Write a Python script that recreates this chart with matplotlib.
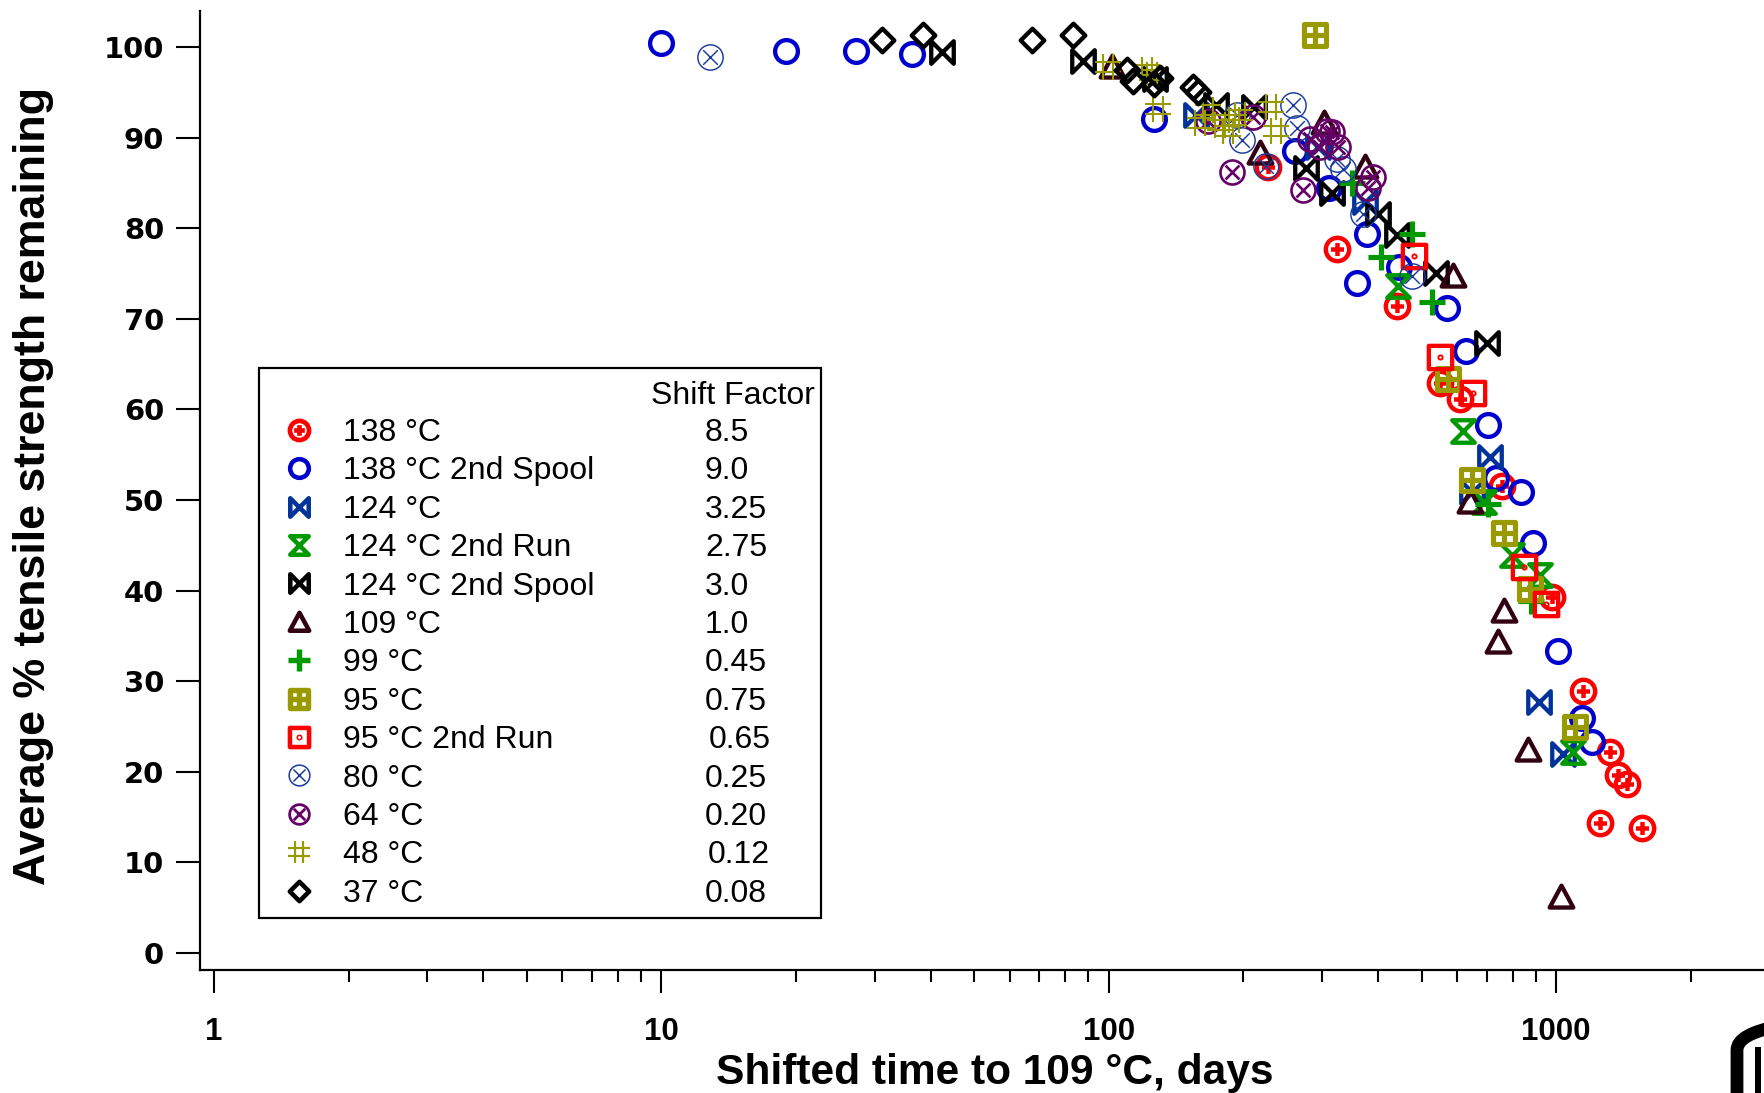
import numpy as np
import matplotlib
matplotlib.use("Agg")
import matplotlib.pyplot as plt
from matplotlib.path import Path
from matplotlib.lines import Line2D
from matplotlib.patches import Rectangle, FancyBboxPatch
from matplotlib.transforms import IdentityTransform

# ---------------------------------------------------------------- data
series_names = ["138 °C", "138 °C 2nd Spool", "124 °C", "124 °C 2nd Run",
                "124 °C 2nd Spool", "109 °C", "99 °C", "95 °C", "95 °C 2nd Run",
                "80 °C", "64 °C", "48 °C", "37 °C"]
shift_factors = ["8.5", "9.0", "3.25", "2.75", "3.0", "1.0", "0.45", "0.75",
                 "0.65", "0.25", "0.20", "0.12", "0.08"]

t138_x = [227, 323, 440, 550, 609, 755, 977, 1150, 1320, 1377, 1438, 1253, 1553]
t138_y = [86.8, 77.7, 71.4, 62.9, 61.2, 51.5, 39.3, 28.9, 22.2, 19.6, 18.7, 14.3, 13.8]

t138b_x = [9.96, 19.0, 27.2, 36.3, 126, 261, 310, 377, 358, 445, 569, 630, 705,
           733, 833, 889, 1011, 1140, 1200]
t138b_y = [100.4, 99.6, 99.6, 99.2, 92.1, 88.5, 84.4, 79.4, 73.9, 75.7, 71.2,
           66.4, 58.3, 52.4, 50.9, 45.3, 33.3, 25.9, 23.3]

t124_x = [157, 293, 374, 711, 647, 917, 1038]
t124_y = [92.5, 89.0, 82.9, 54.8, 50.9, 27.7, 22.0]

t124r_x = [443, 620, 688, 798, 920, 1093]
t124r_y = [73.6, 57.6, 49.8, 43.9, 41.7, 22.2]

t124s_x = [42.3, 87.7, 127, 174, 210.6, 276.6, 315, 400, 440, 540, 700]
t124s_y = [99.5, 98.4, 96.5, 93.6, 93.4, 86.6, 83.9, 81.6, 79.3, 75.1, 67.3]

t109_x = [101.5, 217.8, 302, 374, 589, 641, 764, 742, 866, 1025]
t109_y = [97.8, 88.3, 91.6, 86.8, 74.7, 49.8, 37.7, 34.3, 22.4, 6.2]

t99_x = [349, 405, 475, 527, 705, 880]
t99_y = [85.0, 76.8, 79.4, 71.9, 49.6, 38.8]

t95_x = [289, 574, 649, 766, 874, 1102]
t95_y = [101.3, 63.4, 52.2, 46.4, 40.2, 25.0]

t95r_x = [480, 550, 653, 847, 947]
t95r_y = [76.9, 65.8, 61.8, 42.6, 38.5]

t80_x = [12.85, 193, 198, 225, 258.5, 263, 323, 334, 370.6, 475]
t80_y = [98.9, 92.5, 89.7, 86.9, 93.6, 91.1, 87.6, 86.5, 81.6, 74.7]

t64_x = [166.8, 188.2, 210, 272, 281.6, 296.6, 307, 314.8, 326, 380, 390]
t64_y = [91.8, 86.2, 92.3, 84.2, 89.8, 89.0, 90.7, 90.6, 89.0, 84.4, 85.7]

t48_x = [99.7, 121.5, 125, 129, 160, 166.8, 177, 185, 190, 196.5, 231, 237]
t48_y = [97.8, 97.5, 96.9, 93.2, 91.6, 93.0, 91.4, 90.7, 91.9, 92.5, 93.4, 90.7]

t37_x = [31.1, 38.5, 67.2, 83.0, 109.6, 113.4, 126, 130, 154.5, 158]
t37_y = [100.8, 101.3, 100.8, 101.3, 97.5, 96.3, 95.9, 96.6, 95.6, 95.0]

x_ticks = [1, 10, 100, 1000]
x_tick_labels = ["1", "10", "100", "1000"]
y_ticks = [0, 10, 20, 30, 40, 50, 60, 70, 80, 90, 100]


# ---------------------------------------------------------------- marker shapes
def closed(verts):
    return Path(list(verts) + [verts[0]],
                [Path.MOVETO] + [Path.LINETO] * (len(verts) - 1) + [Path.CLOSEPOLY])


def segments(segs):
    verts, codes = [], []
    for a, b in segs:
        verts += [a, b]
        codes += [Path.MOVETO, Path.LINETO]
    return Path(verts, codes)


a = 0.56
circle_plus = Path.make_compound_path(
    Path.unit_circle(), segments([((-a, 0), (a, 0)), ((0, -a), (0, a))]))
b = 0.58
circle_x = Path.make_compound_path(
    Path.unit_circle(), segments([((-b, -b), (b, b)), ((-b, b), (b, -b))]))
bowtie = closed([(-1, 1), (1, -1), (1, 1), (-1, -1)])
hourglass = closed([(-1, 1), (1, 1), (-1, -1), (1, -1)])
triangle = closed([(0, 1), (-1, -0.85), (1, -0.85)])
diamond = closed([(0, 1), (1, 0), (0, -1), (-1, 0)])
square = closed([(-1, -1), (1, -1), (1, 1), (-1, 1)])
square_plus = Path.make_compound_path(
    square, segments([((-1, 0), (1, 0)), ((0, -1), (0, 1))]))
square_dot = Path.make_compound_path(square, Path.circle((0, 0), 0.08))
h = 0.4
hash_mark = segments([((-h, -1), (-h, 1)), ((h, -1), (h, 1)),
                      ((-1, -h), (1, -h)), ((-1, h), (1, h))])

# (x, y, marker, colour, size pt, edge width pt)
series = [
    (t138_x, t138_y, circle_plus, "#FF0000", 16.8, 3.2),
    (t138b_x, t138b_y, "o", "#0000CC", 16.4, 3.1),
    (t124_x, t124_y, bowtie, "#003399", 16.2, 3.1),
    (t124r_x, t124r_y, hourglass, "#009900", 16.2, 3.1),
    (t124s_x, t124s_y, bowtie, "#000000", 16.2, 3.1),
    (t109_x, t109_y, triangle, "#330011", 17.0, 3.1),
    (t99_x, t99_y, "+", "#009900", 19.2, 3.7),
    (t95_x, t95_y, square_plus, "#999900", 16.2, 3.7),
    (t95r_x, t95r_y, square_dot, "#FF0000", 16.8, 3.1),
    (t80_x, t80_y, circle_x, "#1A3A9E", 18.2, 1.05),
    (t64_x, t64_y, circle_x, "#660066", 17.3, 1.9),
    (t48_x, t48_y, hash_mark, "#999900", 18.5, 1.5),
    (t37_x, t37_y, diamond, "#000000", 17.0, 3.1),
]

# ---------------------------------------------------------------- figure
W, H, DPI = 1764, 1093, 100
fig = plt.figure(figsize=(W / DPI, H / DPI), dpi=DPI)
ax = fig.add_axes([200 / W, (H - 970) / H, (W - 200) / W, (970 - 11) / H])

for xs, ys, mk, col, ms, mew in series:
    ax.plot(xs, ys, linestyle="none", marker=mk, markersize=ms,
            markeredgecolor=col, markerfacecolor="none", markeredgewidth=mew)

ax.set_xscale("log")
ax.set_xlim(10 ** (-14 / 447.4), 10 ** (1550 / 447.4))
ax.set_ylim((953 - 970) / 9.06, (953 - 11) / 9.06)

ax.spines["top"].set_visible(False)
ax.spines["right"].set_visible(False)
for s in ("left", "bottom"):
    ax.spines[s].set_linewidth(1.6)

xmin, xmax = ax.get_xlim()
minor = [m * 10 ** k for k in range(0, 4) for m in range(2, 10)
         if xmin < m * 10 ** k < xmax]
ax.set_xticks(x_ticks, x_tick_labels, fontfamily="Liberation Sans",
              fontweight="bold", fontsize=22.5)
ax.set_xticks(minor, minor=True)
ax.set_yticks(y_ticks, [str(v) for v in y_ticks], fontfamily="DejaVu Sans",
              fontweight="bold", fontsize=20.9)
ax.tick_params(axis="x", which="major", direction="out", length=16.5,
               width=1.5, pad=17)
ax.tick_params(axis="x", which="minor", direction="out", length=8.6,
               width=1.5, labelbottom=False)
ax.tick_params(axis="y", which="major", direction="out", length=17.3,
               width=1.5, pad=8.6)
ax.tick_params(axis="y", which="minor", left=False)

ax.set_xlabel("Shifted time to 109 °C, days", fontfamily="Liberation Sans",
              fontweight="bold", fontsize=30.6)
ax.xaxis.set_label_coords(0.508, -0.0866)
ax.set_ylabel("Average % tensile strength remaining",
              fontfamily="Liberation Sans", fontweight="bold", fontsize=32.2)
ax.yaxis.set_label_coords(-0.0934, 0.505)

# ---------------------------------------------------------------- legend
LEG_FS = 23
fs_px = LEG_FS * DPI / 72
handles = [Line2D([], [], linestyle="none", marker=mk, markersize=ms * 0.82,
                  markeredgecolor=col, markerfacecolor="none",
                  markeredgewidth=mew * 1.05)
           for _, _, mk, col, ms, mew in series]


def make_legend(spacing, anchor):
    return ax.legend(handles, series_names, loc="upper left",
                     bbox_to_anchor=anchor, bbox_transform=ax.transAxes,
                     frameon=False, prop={"family": "Liberation Sans", "size": LEG_FS},
                     handlelength=1.0, handletextpad=0.886, labelspacing=spacing,
                     borderpad=0, borderaxespad=0, numpoints=1)


def text_boxes(leg):
    fig.canvas.draw()
    r = fig.canvas.get_renderer()
    return [t.get_window_extent(r) for t in leg.get_texts()]


row_pitch = 38.4
spacing = 0.2
leg = make_legend(spacing, (0.1, 0.7))
bb = text_boxes(leg)
pitch = (bb[0].y0 - bb[-1].y0) / (len(bb) - 1)
spacing += (row_pitch - pitch) / fs_px
leg.remove()
leg = make_legend(spacing, (0.1, 0.7))
bb = text_boxes(leg)
dx = 343 - bb[0].x0
dy = (H - 433) - (bb[0].y0 + bb[0].y1) / 2
p0 = ax.transAxes.transform((0.1, 0.7))
anchor = ax.transAxes.inverted().transform((p0[0] + dx, p0[1] + dy))
leg.set_bbox_to_anchor(tuple(anchor), transform=ax.transAxes)
bb = text_boxes(leg)

value_x = [705, 705, 705, 705, 705, 705, 705, 705, 709, 705, 705, 708, 705]
for box, val, vx in zip(bb, shift_factors, value_x):
    yc = (box.y0 + box.y1) / 2
    fig.text(vx / W, yc / H, val, ha="left", va="center",
             fontfamily="Liberation Sans", fontsize=LEG_FS)
fig.text(651 / W, (H - 396) / H, "Shift Factor", ha="left", va="center",
         fontfamily="Liberation Sans", fontsize=LEG_FS)
fig.add_artist(Rectangle((259 / W, (H - 918) / H), (821 - 259) / W, (918 - 368) / H,
                         transform=fig.transFigure, fill=False,
                         edgecolor="black", linewidth=1.6))

# partial emblem in the lower right corner
fig.add_artist(FancyBboxPatch((1737, -60), 200, 135,
                              boxstyle="round,pad=0,rounding_size=32",
                              linewidth=9.2, edgecolor="black", facecolor="none",
                              transform=IdentityTransform()))
fig.add_artist(Rectangle((1755, 0), 6, 46, facecolor="black", edgecolor="none",
                         transform=IdentityTransform()))

fig.savefig("out.png", dpi=DPI)
